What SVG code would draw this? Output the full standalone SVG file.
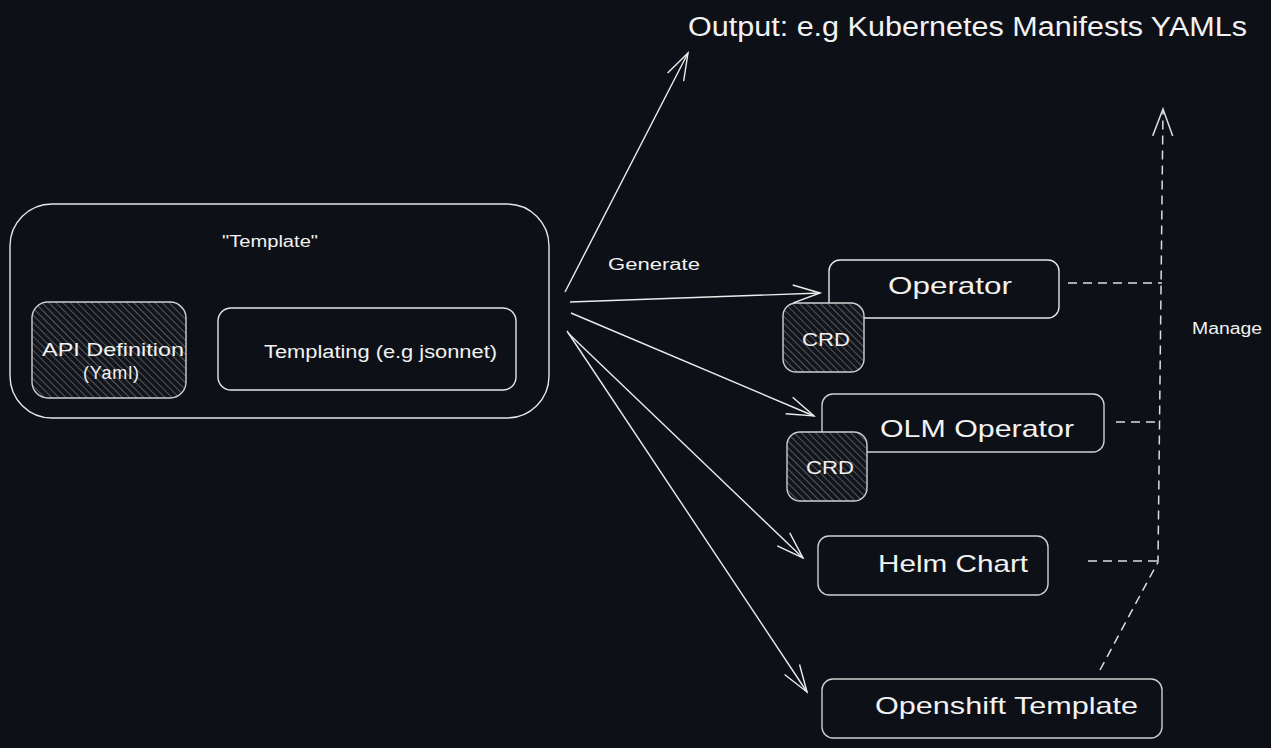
<svg xmlns="http://www.w3.org/2000/svg" width="1271" height="748" viewBox="0 0 1271 748">
<style>
  .bg{fill:#0d1017}
  .box{fill:none;stroke:#e6e6e6;stroke-width:1.4}
  .gbox{fill:none;stroke:#cfcfcf;stroke-width:1.4}
  .hbox{fill:url(#hatch);stroke:#cfcfcf;stroke-width:1.4}
  .t{font-family:"Liberation Sans","DejaVu Sans",sans-serif;fill:#f2f2f2}
  .line{fill:none;stroke:#ececec;stroke-width:1.4}
  .dash{fill:none;stroke:#dcdcdc;stroke-width:1.5;stroke-dasharray:9 6}
</style>
<defs>
  <pattern id="hatch" patternUnits="userSpaceOnUse" width="5" height="5" patternTransform="rotate(-45)">
    <rect width="5" height="5" fill="#12151c"/>
    <line x1="0" y1="0" x2="0" y2="5" stroke="#7a7a7a" stroke-width="1.3"/>
  </pattern>
  <marker id="arr" markerUnits="userSpaceOnUse" viewBox="-30 -12 32 24" refX="0" refY="0" markerWidth="32" markerHeight="24" orient="auto">
    <path d="M -27 -9 L 0 0 L -27 9" fill="none" stroke="#ececec" stroke-width="1.4"/>
  </marker>
  <marker id="arrd" markerUnits="userSpaceOnUse" viewBox="-30 -12 32 24" refX="0" refY="0" markerWidth="32" markerHeight="24" orient="auto">
    <path d="M -27 -10 L 0 0 L -27 10" fill="none" stroke="#dcdcdc" stroke-width="1.5"/>
  </marker>
</defs>
<rect class="bg" x="0" y="0" width="1271" height="748"/>

<g id="n-template">
  <rect class="box" x="10" y="204" width="539" height="214" rx="42"/>
  <text class="t" x="222" y="247" font-size="16" textLength="96" lengthAdjust="spacingAndGlyphs">"Template"</text>
</g>
<g id="n-api">
  <rect class="hbox" x="32" y="302" width="154" height="96" rx="16"/>
  <text class="t" x="42" y="356" font-size="18" textLength="142" lengthAdjust="spacingAndGlyphs">API Definition</text>
  <text class="t" x="83" y="379" font-size="18" textLength="56" lengthAdjust="spacing">(Yaml)</text>
</g>
<g id="n-templating">
  <rect class="box" x="218" y="308" width="298" height="82" rx="13"/>
  <text class="t" x="264" y="358" font-size="18" textLength="233" lengthAdjust="spacingAndGlyphs">Templating (e.g jsonnet)</text>
</g>
<g id="n-output">
  <text class="t" x="688" y="36" font-size="27" textLength="559" lengthAdjust="spacingAndGlyphs">Output: e.g Kubernetes Manifests YAMLs</text>
</g>
<g id="n-operator">
  <rect class="box" x="829" y="260" width="230" height="58" rx="11"/>
  <text class="t" x="888" y="294" font-size="24" textLength="124" lengthAdjust="spacingAndGlyphs">Operator</text>
</g>
<g id="n-crd1">
  <rect class="hbox" x="783" y="303" width="81" height="69" rx="13"/>
  <text class="t" x="802" y="346" font-size="19" textLength="48" lengthAdjust="spacingAndGlyphs">CRD</text>
</g>
<g id="n-olm">
  <rect class="gbox" x="822" y="394" width="282" height="58" rx="11"/>
  <text class="t" x="880" y="437" font-size="24" textLength="194" lengthAdjust="spacingAndGlyphs">OLM Operator</text>
</g>
<g id="n-crd2">
  <rect class="hbox" x="787" y="432" width="80" height="69" rx="13"/>
  <text class="t" x="806" y="474" font-size="19" textLength="48" lengthAdjust="spacingAndGlyphs">CRD</text>
</g>
<g id="n-helm">
  <rect class="gbox" x="818" y="536" width="230" height="59" rx="11"/>
  <text class="t" x="878" y="572" font-size="24" textLength="150" lengthAdjust="spacingAndGlyphs">Helm Chart</text>
</g>
<g id="n-openshift">
  <rect class="gbox" x="822" y="679" width="340" height="59" rx="11"/>
  <text class="t" x="875" y="714" font-size="24" textLength="263" lengthAdjust="spacingAndGlyphs">Openshift Template</text>
</g>

<g id="connectors">
  <path class="line" d="M 565 292 L 688 53" marker-end="url(#arr)"/>
  <path class="line" d="M 570 302 L 820 293" marker-end="url(#arr)"/>
  <path class="line" d="M 571 313 L 814 416" marker-end="url(#arr)"/>
  <path class="line" d="M 567 331 L 807 692" marker-end="url(#arr)"/>
  <path class="line" d="M 568 333 L 803 558" marker-end="url(#arr)"/>
  <text class="t" x="608" y="270" font-size="16" textLength="92" lengthAdjust="spacingAndGlyphs">Generate</text>

  <path class="dash" d="M 1100 670 L 1158 562 L 1163 109" marker-end="url(#arrd)"/>
  <path class="dash" d="M 1068 283 L 1162 283"/>
  <path class="dash" d="M 1116 422 L 1161 422"/>
  <path class="dash" d="M 1088 561 L 1158 561"/>
  <text class="t" x="1192" y="334" font-size="16" textLength="70" lengthAdjust="spacingAndGlyphs">Manage</text>
</g>
</svg>
